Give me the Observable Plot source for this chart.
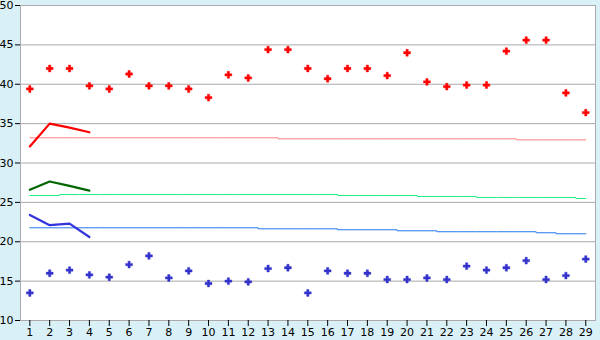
<!DOCTYPE html>
<html><head><meta charset="utf-8">
<script src="https://cdn.jsdelivr.net/npm/d3@7"></script>
<script src="https://cdn.jsdelivr.net/npm/@observablehq/plot@0.6"></script>
<style>
html,body{margin:0;padding:0;background:#d9f0f7;}
</style>
</head><body>
<div id="chart"></div>
<script>
const days = d3.range(1, 30);
const highPoints = [39.4,42.0,42.0,39.8,39.4,41.3,39.8,39.8,39.4,38.3,41.2,40.8,44.4,44.4,42.0,40.7,42.0,42.0,41.1,44.0,40.3,39.7,39.9,39.9,44.2,45.6,45.6,38.9,36.4];
const lowPoints = [13.5,16.0,16.4,15.8,15.5,17.1,18.2,15.4,16.3,14.7,15.0,14.9,16.6,16.7,13.5,16.3,16.0,16.0,15.2,15.2,15.4,15.2,16.9,16.4,16.7,17.6,15.2,15.7,17.8];
const highTrend = [32.1,35.0,34.5,33.9];
const midTrend = [26.6,27.65,27.1,26.5];
const lowTrend = [23.4,22.1,22.3,20.6];
const highAvg = [33.2,33.2,33.2,33.2,33.2,33.2,33.2,33.2,33.2,33.2,33.2,33.2,33.2,33.07,33.07,33.07,33.07,33.07,33.07,33.07,33.07,33.07,33.07,33.07,33.07,32.94,32.94,32.94,32.94];
const midAvg = [25.87,25.87,26.0,26.0,26.0,26.0,26.0,26.0,26.0,26.0,26.0,26.0,26.0,26.0,26.0,26.0,25.87,25.87,25.87,25.87,25.75,25.75,25.75,25.62,25.62,25.62,25.62,25.62,25.49];
const lowAvg = [21.77,21.77,21.77,21.77,21.77,21.77,21.77,21.77,21.77,21.77,21.77,21.77,21.64,21.64,21.64,21.64,21.52,21.52,21.52,21.39,21.39,21.27,21.27,21.27,21.27,21.27,21.14,21.01,21.01];
const yTicks = [10,15,20,25,30,35,40,45,50];

const trendDays = days.slice(0, 4);
const chart = Plot.plot({
  width: 600, height: 340,
  marginLeft: 20, marginRight: 5, marginTop: 5, marginBottom: 20,
  style: {background: "#d9f0f7", fontFamily: "DejaVu Sans, Verdana, sans-serif", fontSize: "11px", color: "black", overflow: "visible"},
  x: {domain: [0.53, 29.49], ticks: days, tickFormat: d => d, tickSize: 6, tickPadding: 2, label: null},
  y: {domain: [10, 50], ticks: yTicks, tickSize: 5, tickPadding: 2, label: null},
  marks: [
    Plot.frame({fill: "white", stroke: "#aaaaaa"}),
    Plot.gridY(yTicks, {stroke: "#aaaaaa", strokeOpacity: 1}),
    Plot.axisX({ticks: days, tickSize: 6, tickPadding: 2, fontSize: 11}),
    Plot.axisY({ticks: yTicks, tickSize: 5, tickPadding: 2, fontSize: 11}),
    Plot.line(days, {x: d => d, y: (d, i) => highAvg[i], curve: "step", stroke: "#ff8080", strokeWidth: 1}),
    Plot.line(days, {x: d => d, y: (d, i) => midAvg[i], curve: "step", stroke: "#22ee80", strokeWidth: 1}),
    Plot.line(days, {x: d => d, y: (d, i) => lowAvg[i], curve: "step", stroke: "#2277ee", strokeWidth: 1}),
    Plot.line(trendDays, {x: d => d, y: (d, i) => highTrend[i], stroke: "#ff0000", strokeWidth: 2.2}),
    Plot.line(trendDays, {x: d => d, y: (d, i) => midTrend[i], stroke: "#006600", strokeWidth: 2.2}),
    Plot.line(trendDays, {x: d => d, y: (d, i) => lowTrend[i], stroke: "#3333dd", strokeWidth: 2.2}),
    Plot.dot(days, {x: d => d, y: (d, i) => highPoints[i], symbol: "cross", r: 2.9, fill: "#ff0000", stroke: "#ff0000", strokeWidth: 0.4}),
    Plot.dot(days, {x: d => d, y: (d, i) => lowPoints[i], symbol: "cross", r: 2.9, fill: "#3333cc", stroke: "#3333cc", strokeWidth: 0.4})
  ]
});
document.getElementById("chart").appendChild(chart);
</script>
</body></html>
